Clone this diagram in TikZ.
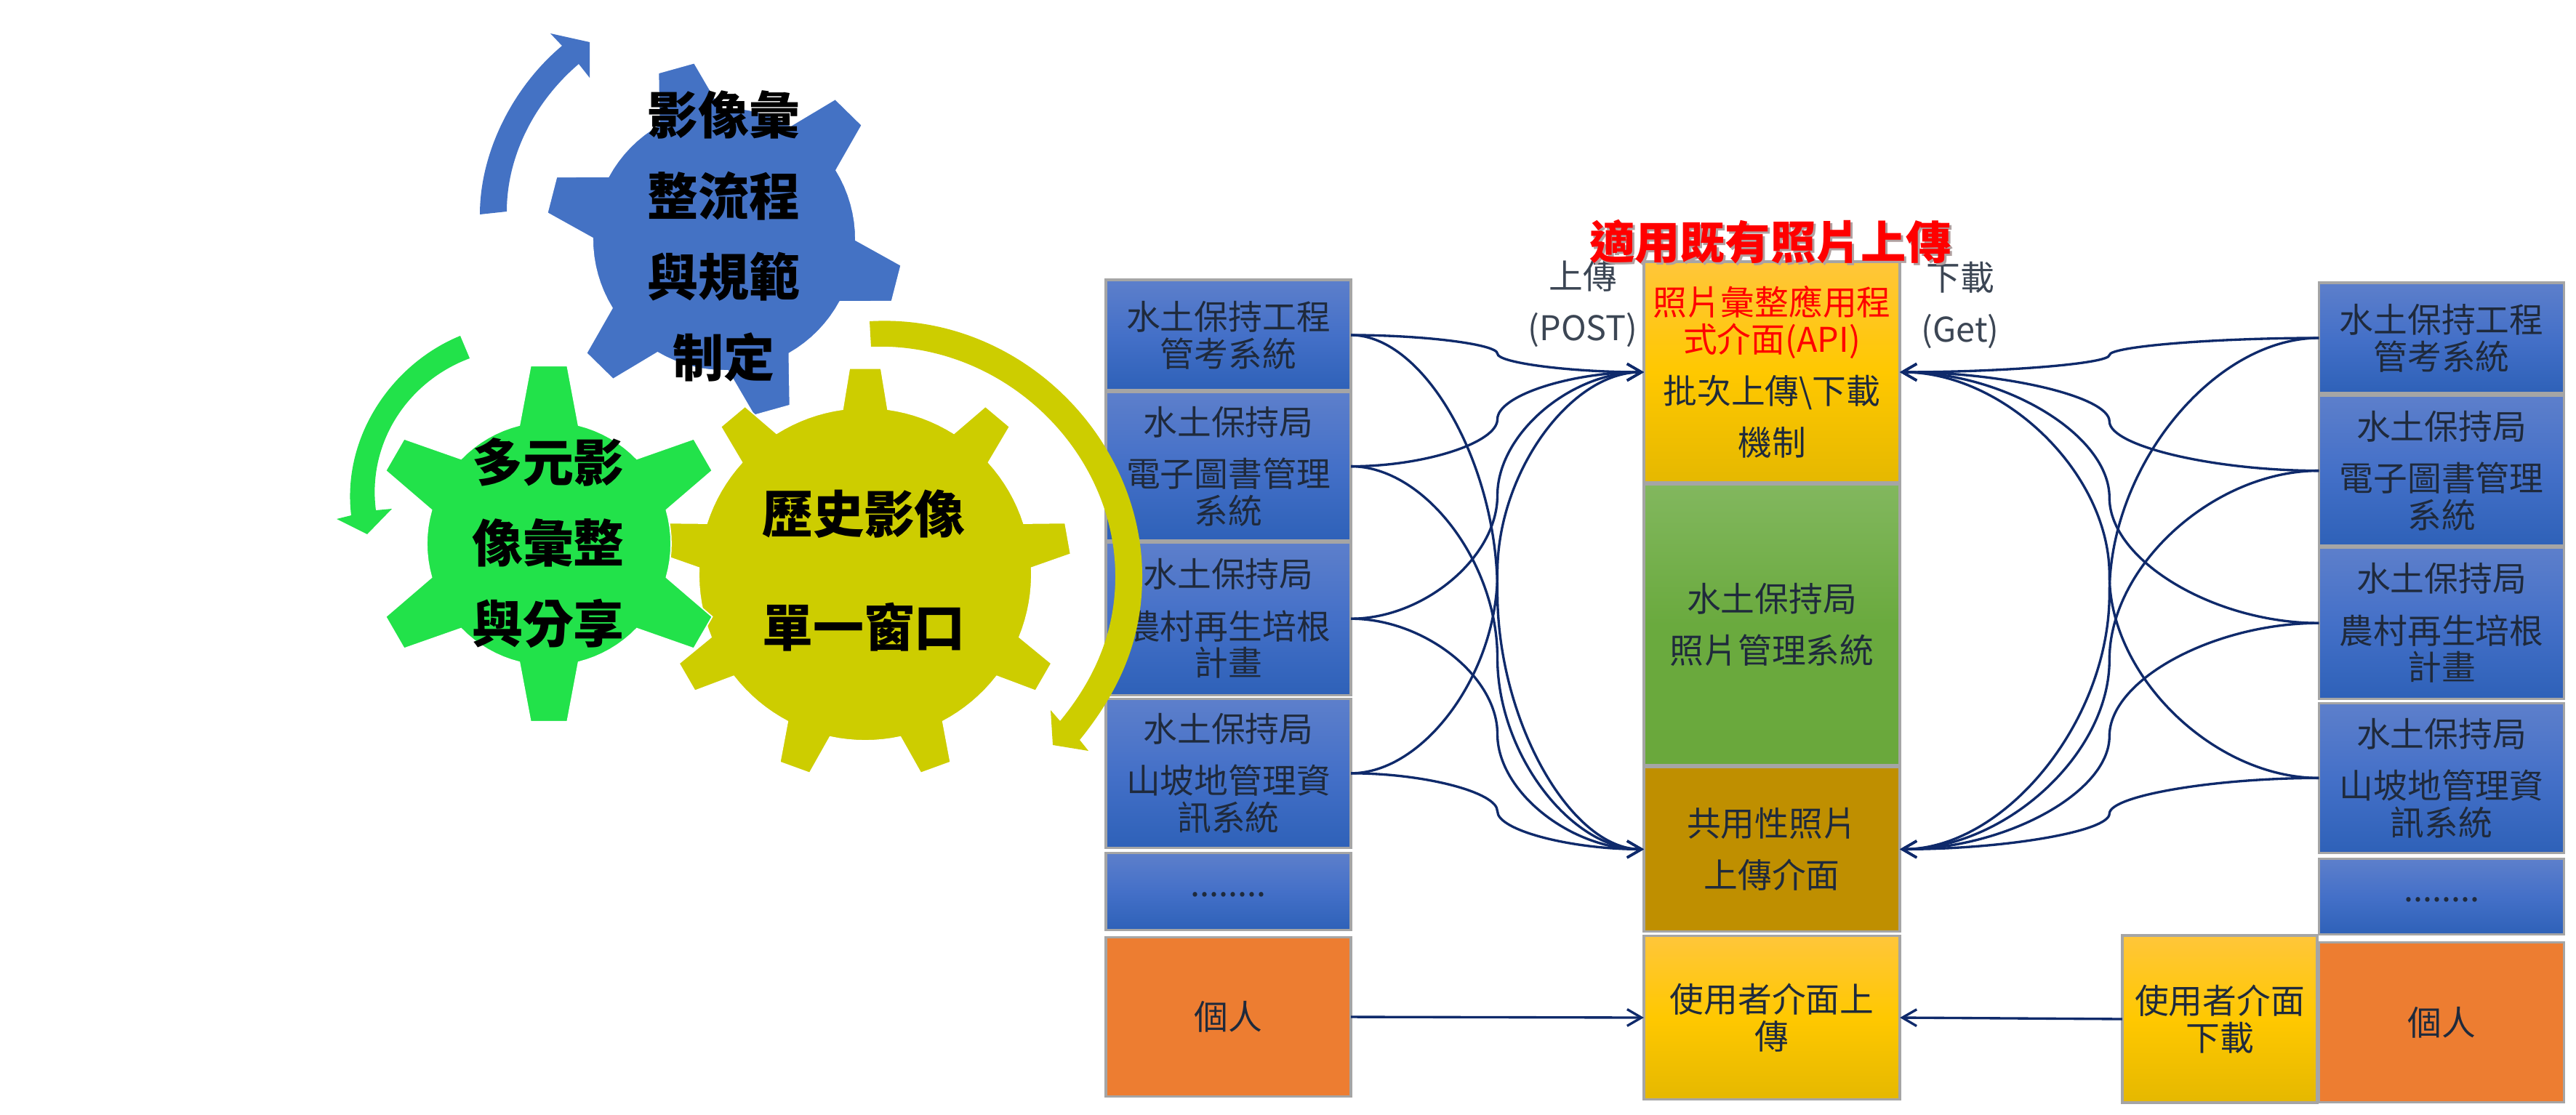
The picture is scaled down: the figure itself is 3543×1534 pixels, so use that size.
\documentclass[tikz,border=0pt]{standalone}
\usepackage{fontspec}
\setmainfont{Noto Sans CJK TC}
\usetikzlibrary{positioning,calc,arrows.meta}
\definecolor{bluegear}{HTML}{4472C4}
\definecolor{greengear}{HTML}{22E24A}
\definecolor{yellowgear}{HTML}{CDCD00}
\definecolor{navyline}{HTML}{0F2A6B}
\definecolor{boxtext}{HTML}{1F2A3C}
\definecolor{labeltext}{HTML}{3C4654}
\definecolor{edgegray}{HTML}{A5A5A5}
\definecolor{titleshade}{HTML}{B0A0A0}
\tikzset{
	panel/.style = {draw=edgegray, line width=1pt, inner sep=0pt, outer sep=0pt, align=center, text=boxtext,
		font=\fontsize{13.3}{14.5}\selectfont},
	sysbox/.style = {panel, minimum width=3.37cm, top color={rgb,255:red,93;green,127;blue,203}, bottom color={rgb,255:red,46;green,97;blue,184}, middle color={rgb,255:red,68;green,112;blue,200}},
	apibox/.style = {panel, minimum width=3.52cm, top color={rgb,255:red,255;green,198;blue,58}, bottom color={rgb,255:red,229;green,184;blue,0}, middle color={rgb,255:red,255;green,200;blue,0}},
	mgmtbox/.style = {panel, minimum width=3.52cm, top color={rgb,255:red,130;green,183;blue,94}, bottom color={rgb,255:red,106;green,168;blue,60}, middle color={rgb,255:red,106;green,170;blue,62}},
	sharebox/.style = {panel, minimum width=3.52cm, fill={rgb,255:red,191;green,143;blue,0}},
	solobox/.style = {panel, minimum width=3.37cm, fill={rgb,255:red,237;green,125;blue,49}},
	geartext/.style = {align=center, text=black, font=\fontsize{19.9}{31.6}\selectfont\bfseries},
	toplabel/.style = {align=center, text=labeltext, font=\fontsize{13.3}{20.4}\selectfont},
	link/.style = {navyline, line width=.95pt, -{Straight Barb[length=5.6pt,width=6.5pt]},
		to path={let \p1=(\tikztostart), \p2=(\tikztotarget), \p3=($(\p1)!.5!(\p2)$) in
			.. controls ({\x1/2+\x3/2},\y1) and (\x3,{\y1/2+\y3/2}) .. (\p3)
			.. controls (\x3,{\y3/2+\y2/2}) and ({\x3/2+\x2/2},\y2) .. (\p2)}},
	straightlink/.style = {navyline, line width=.95pt, -{Straight Barb[length=5.6pt,width=6.5pt]}}
}
% x, y, colour, teeth, first tooth, body radius, tip radius, base half angle, tip half angle
\newcommand\drawgear[9]{
	\path[fill=#3, draw=white, line width=.5pt, shift={(#1,#2)}] ({#5-#8+360/#4}:#6)
		\foreach \t [evaluate=\t as \a using #5+360*\t/#4] in {1,...,#4}{
			-- ({\a-#8}:#6) -- ({\a-#9}:#7) -- ({\a+#9}:#7) -- ({\a+#8}:#6)
			\foreach \s in {1,...,7}{ -- ({\a+#8+\s*(360/#4-2*#8)/8}:#6) }
		} -- cycle;
}
\newcommand\titletext[1]{\leavevmode\rlap{\raisebox{-.9pt}{\hspace{.9pt}\textcolor{titleshade}{#1}}}\textcolor{red}{#1}}
\begin{document}
\begin{tikzpicture}[x=0.01cm, y=-0.01cm]
	\fill[white, use as bounding box] (0,0) rectangle (3543,1534);

	% gears
	\drawgear{996}{329}{bluegear}{6}{14.4}{181}{246}{14}{6}
	\drawgear{1190}{790}{yellowgear}{9}{-90}{229}{284}{7.8}{4.4}
	\drawgear{755}{748}{greengear}{6}{30}{168}{246}{14}{5.9}
	\node[geartext] (gear1) at (995,325) {影像彙\\整流程\\與規範\\制定};
	\node[geartext] (gear2) at (754,747) {多元影\\像彙整\\與分享};
	\node[geartext, font=\fontsize{19.9}{44.4}\selectfont\bfseries] (gear3) at (1188,785) {歷史影像\\單一窗口};

	% left column
	\node[sysbox, minimum height=1.52cm] (a1) at (1689.5,461) {水土保持工程\\管考系統};
	\node[sysbox, minimum height=2.05cm, below=0.02cm of a1] (a2) {水土保持局\\[5.7pt]電子圖書管理\\系統};
	\node[sysbox, minimum height=2.10cm, below=0.02cm of a2] (a3) {水土保持局\\[5.7pt]農村再生培根\\計畫};
	\node[sysbox, minimum height=2.05cm, below=0.05cm of a3] (a4) {水土保持局\\[5.7pt]山坡地管理資\\訊系統};
	\node[sysbox, minimum height=1.06cm, below=0.07cm of a4] (a5) {\raisebox{-4pt}{........}};
	\node[solobox, minimum height=2.19cm, below=0.10cm of a5] (a6) {個人};

	% middle column
	\node[apibox, minimum height=3.04cm] (api) at (2437,512) {\textcolor{red}{照片彙整應用程}\\\textcolor{red}{式介面(API)}\\[5.7pt]批次上傳\textbackslash 下載\\[5.7pt]機制};
	\node[mgmtbox, minimum height=3.86cm, below=0.02cm of api] (mgmt) {水土保持局\\[5.7pt]照片管理系統};
	\node[sharebox, minimum height=2.26cm, below=0.03cm of mgmt] (share) {共用性照片\\[5.7pt]上傳介面};
	\node[apibox, minimum height=2.25cm, below=0.06cm of share] (up) {使用者介面上\\傳};

	% right column
	\node[sysbox, minimum height=1.52cm] (b1) at (3358,465) {水土保持工程\\管考系統};
	\node[sysbox, minimum height=2.07cm, below=0.03cm of b1] (b2) {水土保持局\\[5.7pt]電子圖書管理\\系統};
	\node[sysbox, minimum height=2.08cm, below=0.02cm of b2] (b3) {水土保持局\\[5.7pt]農村再生培根\\計畫};
	\node[sysbox, minimum height=2.06cm, below=0.06cm of b3] (b4) {水土保持局\\[5.7pt]山坡地管理資\\訊系統};
	\node[sysbox, minimum height=1.04cm, below=0.08cm of b4] (b5) {\raisebox{-4pt}{........}};
	\node[solobox, minimum height=2.20cm, below=0.11cm of b5] (b6) {個人};
	\node[apibox, minimum width=2.68cm, minimum height=2.30cm] (down) at (3053,1402) {使用者介面\\下載};

	% labels
	\node[toplabel] (uplabel) at (2177,418) {上傳\\(POST)};
	\node[toplabel] (downlabel) at (2696,420) {下載\\(Get)};
	\node[font=\fontsize{17.7}{18}\selectfont\bfseries] (title) at (2435,334) {\titletext{適用既有照片上傳}};

	% connectors
	\foreach \src in {a1,a2,a3,a4}{
		\draw[link] (\src.east) to (api.west);
		\draw[link] (\src.east) to (share.west);
	}
	\foreach \src in {b1,b2,b3,b4}{
		\draw[link] (\src.west) to (api.east);
		\draw[link] (\src.west) to (share.east);
	}
	\draw[straightlink] (a6.east) -- (up.west);
	\draw[straightlink] (down.west) -- (up.east);

	% turning arrows
	\fill[bluegear] (660,295) .. controls (660,210) and (705,120) .. (773,63) -- (757,46) -- (811,58) -- (811,107) -- (796,88)
		.. controls (735,140) and (697,215) .. (697,291) -- cycle;
	\fill[greengear] (633,462) .. controls (540,500) and (470,600) .. (483,709) -- (463,714) -- (505,735) -- (539,700) -- (517,702)
		.. controls (505,610) and (560,525) .. (646,493) -- cycle;
	\fill[yellowgear] (1196,442) .. controls (1400,430) and (1571,600) .. (1571,793) .. controls (1571,880) and (1540,950) .. (1485,1018)
		-- (1497,1033) -- (1448,1025) -- (1445,977) -- (1458,992)
		.. controls (1505,935) and (1534,870) .. (1534,793) .. controls (1534,620) and (1380,470) .. (1198,477) -- cycle;
\end{tikzpicture}
\end{document}
